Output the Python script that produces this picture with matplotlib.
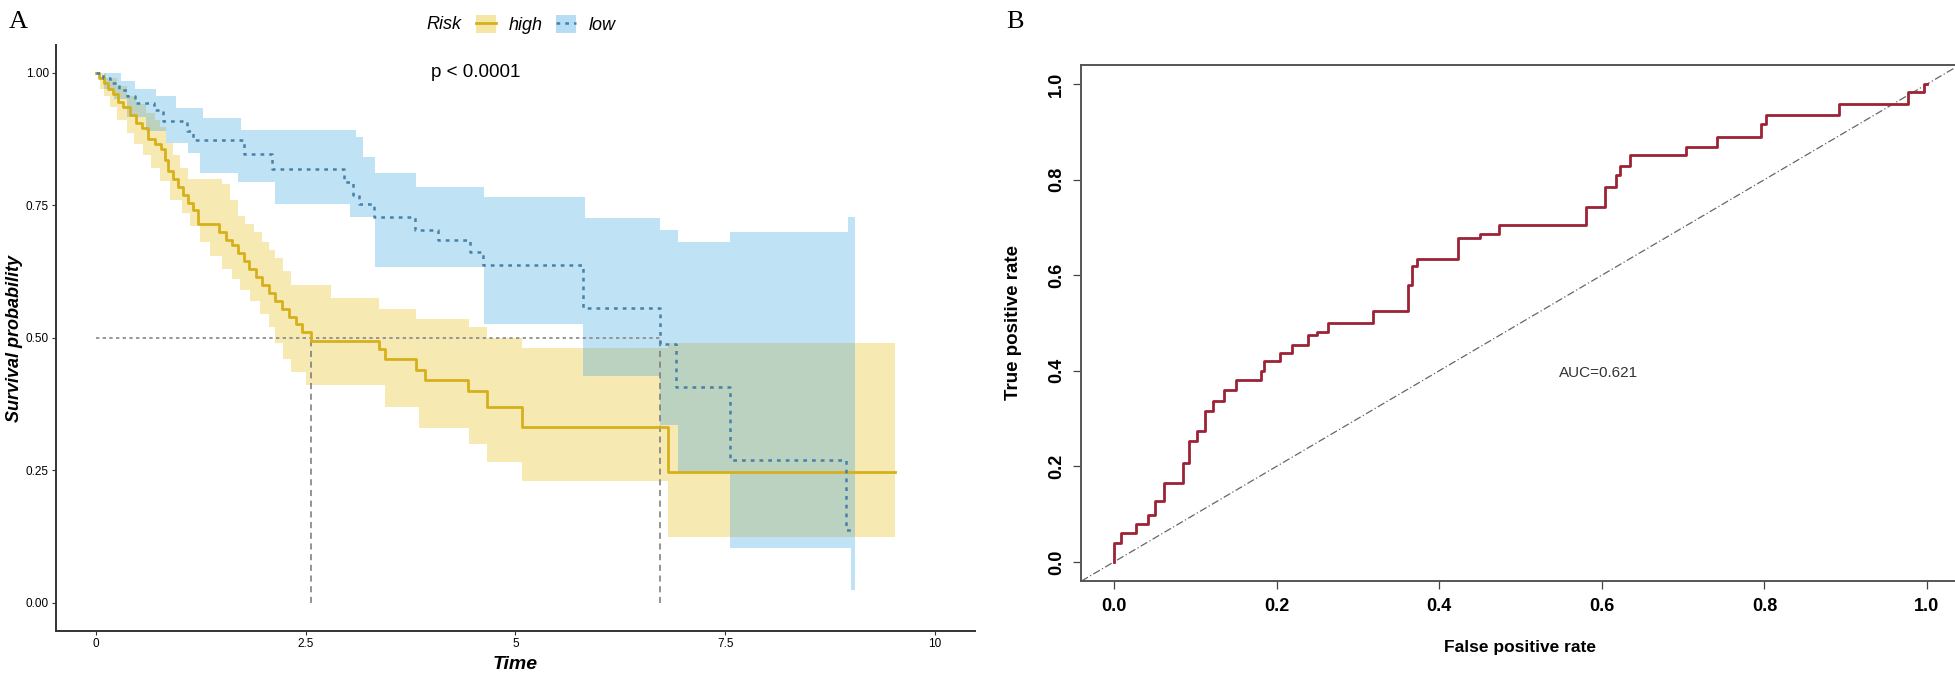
import numpy as np
import matplotlib
matplotlib.use('Agg')
import matplotlib.pyplot as plt
from matplotlib.lines import Line2D
from matplotlib.patches import Patch

# ---- Kaplan-Meier, high risk ----
high_time = [0, 0.04, 0.09, 0.14, 0.2, 0.26, 0.32, 0.4, 0.48, 0.55, 0.62, 0.7, 0.78, 0.82, 0.86,
             0.92, 0.98, 1.04, 1.1, 1.16, 1.22, 1.47, 1.55, 1.62, 1.69, 1.76, 1.83, 1.91, 1.98,
             2.06, 2.14, 2.22, 2.3, 2.38, 2.46, 2.56, 3.37, 3.45, 3.82, 3.92, 4.43, 4.66, 5.08, 6.82]
high_surv = [1.0, 0.99, 0.98, 0.97, 0.96, 0.945, 0.935, 0.92, 0.905, 0.895, 0.875, 0.865, 0.855, 0.835,
             0.815, 0.8, 0.785, 0.77, 0.755, 0.74, 0.715, 0.70, 0.685, 0.675, 0.66, 0.645, 0.63, 0.615,
             0.60, 0.585, 0.57, 0.555, 0.54, 0.525, 0.51, 0.493, 0.479, 0.46, 0.44, 0.42, 0.40, 0.37,
             0.332, 0.2476]
high_end = 9.52
high_up_time = [0, 0.12, 0.25, 0.37, 0.48, 0.6, 0.7, 0.76, 0.84, 0.92, 1.0, 1.1, 1.5, 1.6, 1.69, 1.78,
                1.88, 1.98, 2.06, 2.14, 2.23, 2.32, 2.8, 3.37, 3.82, 4.45, 4.66, 5.08, 6.82]
high_up = [1.0, 0.99, 0.975, 0.955, 0.94, 0.923, 0.91, 0.898, 0.867, 0.845, 0.82, 0.80, 0.79, 0.76, 0.73,
           0.715, 0.70, 0.68, 0.665, 0.65, 0.625, 0.60, 0.575, 0.555, 0.535, 0.52, 0.50, 0.481, 0.49]
high_lo_time = [0, 0.05, 0.1, 0.17, 0.25, 0.37, 0.45, 0.56, 0.66, 0.76, 0.88, 1.02, 1.12, 1.24, 1.36, 1.5,
                1.62, 1.72, 1.84, 1.95, 2.06, 2.14, 2.23, 2.32, 2.5, 3.45, 3.85, 4.45, 4.66, 5.08, 6.82]
high_lo = [1.0, 0.97, 0.955, 0.935, 0.91, 0.886, 0.865, 0.845, 0.82, 0.795, 0.76, 0.735, 0.71, 0.68, 0.655,
           0.63, 0.61, 0.59, 0.57, 0.545, 0.52, 0.49, 0.46, 0.435, 0.41, 0.37, 0.33, 0.30, 0.265, 0.229, 0.125]

# ---- Kaplan-Meier, low risk ----
low_time = [0, 0.08, 0.17, 0.27, 0.37, 0.46, 0.69, 0.8, 1.08, 1.16, 1.76, 2.1, 2.96, 3.07, 3.14, 3.31,
            3.8, 4.08, 4.46, 4.61, 5.8, 6.72, 6.92, 7.56, 8.94]
low_surv = [1.0, 0.99, 0.98, 0.968, 0.955, 0.942, 0.93, 0.908, 0.89, 0.872, 0.846, 0.819, 0.794, 0.77,
            0.753, 0.728, 0.704, 0.684, 0.662, 0.637, 0.557, 0.489, 0.407, 0.27, 0.138]
low_end = 9.0
low_up_time = [0, 0.3, 0.46, 0.72, 0.95, 1.28, 1.73, 3.1, 3.18, 3.33, 3.81, 4.63, 5.83, 6.72, 6.94, 7.56, 8.96]
low_up = [1.0, 0.985, 0.97, 0.955, 0.933, 0.914, 0.892, 0.879, 0.841, 0.81, 0.785, 0.766, 0.725, 0.703,
          0.681, 0.70, 0.727]
low_lo_time = [0, 0.1, 0.22, 0.37, 0.6, 0.84, 1.1, 1.24, 1.69, 2.14, 3.03, 3.33, 4.63, 5.8, 6.72, 6.94, 7.56, 9.0]
low_lo = [1.0, 0.97, 0.95, 0.917, 0.89, 0.867, 0.848, 0.81, 0.794, 0.753, 0.728, 0.634, 0.526, 0.427,
          0.336, 0.245, 0.104, 0.025]
low_band_end = 9.05

median_high = 2.56
median_low = 6.72

# ---- ROC ----
roc_fpr = [0, 0, 0.008, 0.027, 0.042, 0.05, 0.062, 0.085, 0.092, 0.102, 0.112, 0.122, 0.135, 0.15, 0.181,
           0.185, 0.204, 0.219, 0.238, 0.25, 0.263, 0.319, 0.362, 0.367, 0.373, 0.423, 0.45, 0.473, 0.581,
           0.604, 0.618, 0.623, 0.635, 0.704, 0.742, 0.796, 0.802, 0.892, 0.977, 0.996, 1.0]
roc_tpr = [0, 0.04, 0.06, 0.08, 0.099, 0.127, 0.165, 0.207, 0.252, 0.273, 0.315, 0.336, 0.36, 0.381, 0.399,
           0.42, 0.437, 0.454, 0.475, 0.482, 0.499, 0.526, 0.58, 0.62, 0.634, 0.678, 0.687, 0.706, 0.743,
           0.785, 0.81, 0.829, 0.851, 0.869, 0.889, 0.917, 0.935, 0.959, 0.984, 1.0, 1.0]
auc_text = 'AUC=0.621'

YELLOW = '#E7B800'
BLUE = '#2E9FDF'
SANS = ['Liberation Sans', 'DejaVu Sans']
SERIF = ['Liberation Serif', 'DejaVu Serif']


def step_at(bt, bv, grid):
    idx = np.searchsorted(bt, grid, side='right') - 1
    return np.asarray(bv)[idx]


def band(ax, ut, uv, lt, lv, end, color):
    grid = np.union1d(ut, lt)
    grid = np.append(grid[grid < end], end)
    up = step_at(ut, uv, grid)
    lo = step_at(lt, lv, grid)
    ax.fill_between(grid, lo, up, step='post', color=color, alpha=0.3, lw=0)


def curve(ax, t, s, end, **kw):
    ax.step(np.append(t, end), np.append(s, s[-1]), where='post', **kw)


fig = plt.figure(figsize=(19.56, 6.73), dpi=100)

# ---------------- panel A ----------------
ax = fig.add_axes([0.0286, 0.0624, 0.4698, 0.8707])
band(ax, high_up_time, high_up, high_lo_time, high_lo, high_end, YELLOW)
band(ax, low_up_time, low_up, low_lo_time, low_lo, low_band_end, BLUE)
ax.plot([0, median_low], [0.5, 0.5], color='#888888', lw=1.2, ls=(0, (2, 2)))
for m in (median_high, median_low):
    ax.plot([m, m], [0, 0.5], color='#777777', lw=1.1, ls=(0, (4, 3)))
curve(ax, high_time, high_surv, high_end, color='#D6B01C', lw=2.0)
curve(ax, low_time, low_surv, low_end, color='#4682A8', lw=1.8, ls=(0, (1.5, 2)))

ax.set_xlim(-0.477, 10.477)
ax.set_ylim(-0.053, 1.052)
ax.set_xticks([0, 2.5, 5, 7.5, 10])
ax.set_xticklabels(['0', '2.5', '5', '7.5', '10'], family=SANS, fontsize=8.5)
ax.set_yticks([0, 0.25, 0.5, 0.75, 1.0])
ax.set_yticklabels(['0.00', '0.25', '0.50', '0.75', '1.00'], family=SANS, fontsize=8.5)
ax.tick_params(length=3, width=0.8, color='#333333', pad=2)
for side in ('top', 'right'):
    ax.spines[side].set_visible(False)
for side in ('left', 'bottom'):
    ax.spines[side].set_linewidth(1.4)
    ax.spines[side].set_color('#333333')
ax.set_xlabel('Time', family=SANS, fontsize=14, fontstyle='italic', fontweight='bold', labelpad=4)
ax.set_ylabel('Survival probability', family=SANS, fontsize=13, fontstyle='italic', fontweight='bold')
ax.yaxis.set_label_coords(-0.036, 0.5)
ax.text(4.53, 1.0, 'p < 0.0001', family=SANS, fontsize=13.5, ha='center', va='center')

handles = [(Patch(facecolor=YELLOW, alpha=0.35, lw=0), Line2D([], [], color='#D6B01C', lw=2)),
           (Patch(facecolor=BLUE, alpha=0.35, lw=0), Line2D([], [], color='#4682A8', lw=1.8, ls=(0, (1.5, 2))))]
fig.text(461 / 1956, 0.963, 'Risk', family=SANS, fontsize=13, fontstyle='italic', ha='right', va='center')
fig.legend(handles, ['high', 'low'], loc='center', bbox_to_anchor=(0.279, 0.963), ncol=2,
           frameon=False, handlelength=1.15, handleheight=1.15, handletextpad=0.7, columnspacing=0.7,
           prop={'family': SANS, 'size': 13, 'style': 'italic'})

fig.text(0.0046, 0.968, 'A', family=SERIF, fontsize=19, va='center')

# ---------------- panel B ----------------
bx = fig.add_axes([1081.5 / 1956, 92 / 673, 878 / 1956, 516 / 673])
bx.plot([-0.04, 1.04], [-0.04, 1.04], color='#666666', lw=0.9, ls=(0, (6, 2, 1, 2)))
bx.plot(roc_fpr, roc_tpr, drawstyle='steps-post', color='#9B2335', lw=2.0)
bx.text(0.596, 0.395, auc_text, family=SANS, fontsize=11, ha='center', va='center', color='#333333')
bx.set_xlim(-0.04, 1.04)
bx.set_ylim(-0.04, 1.04)
ticks = [0, 0.2, 0.4, 0.6, 0.8, 1.0]
bx.set_xticks(ticks)
bx.set_xticklabels(['0.0', '0.2', '0.4', '0.6', '0.8', '1.0'], family=SANS, fontsize=13, fontweight='bold')
bx.set_yticks(ticks)
bx.set_yticklabels(['0.0', '0.2', '0.4', '0.6', '0.8', '1.0'], family=SANS, fontsize=13,
                   fontweight='bold', rotation=90, va='center')
bx.tick_params(length=6, width=0.9, color='#444444', pad=6)
for s in bx.spines.values():
    s.set_linewidth(1.4)
    s.set_color('#555555')
bx.set_xlabel('False positive rate', family=SANS, fontsize=12.5, fontweight='bold', labelpad=18)
bx.set_ylabel('True positive rate', family=SANS, fontsize=13.5, fontweight='bold')
bx.yaxis.set_label_coords(-0.068, 0.5)

fig.text(1006 / 1956, 0.968, 'B', family=SERIF, fontsize=19, va='center')

fig.savefig('out.png', dpi=100)
